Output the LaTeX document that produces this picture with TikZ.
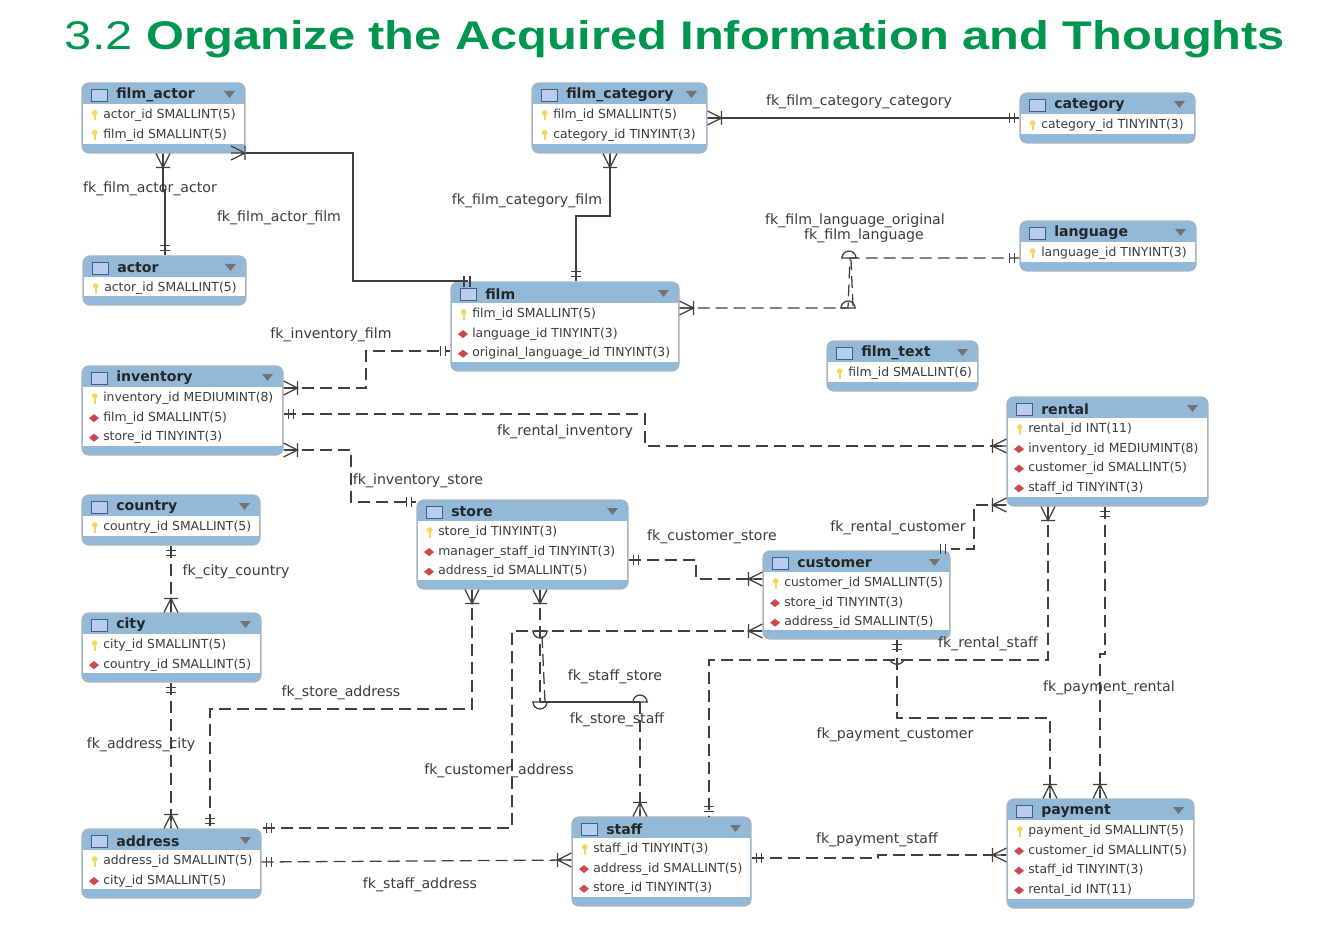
\documentclass[tikz,border=0pt]{standalone}
\usepackage{fontspec}
\setmainfont{DejaVu Sans}
\newfontfamily\titlefont[FakeStretch=1.22]{Liberation Sans}
\usetikzlibrary{fit}

\definecolor{headblue}{RGB}{146,186,216}
\definecolor{framegrey}{RGB}{170,180,190}
\definecolor{titlegreen}{RGB}{0,150,80}
\definecolor{keyyellow}{RGB}{245,215,90}
\definecolor{fkred}{RGB}{205,70,80}
\definecolor{inkgrey}{RGB}{60,60,60}
\definecolor{iconblue}{RGB}{185,205,238}
\definecolor{iconedge}{RGB}{70,90,140}

\tikzset{
  tablebox/.style={draw=framegrey,fill=headblue,rounded corners=5pt,inner sep=0pt,line width=0.8pt},
  tabletitle/.style={anchor=west,inner sep=0.75pt,font=\fontsize{10.6}{12}\selectfont\bfseries,text=black!85},
  rowtext/.style={anchor=west,inner sep=0.75pt,font=\fontsize{9.3}{11}\selectfont,text=inkgrey},
  fklabel/.style={inner sep=0.75pt,font=\fontsize{10.6}{12}\selectfont,text=inkgrey},
  fksolid/.style={draw=black!75,line width=0.95pt},
  fkdash/.style={draw=black!75,line width=0.95pt,dash pattern={on 9pt off 4.5pt}},
  crowfoot/.pic={\draw[black!75,line width=0.95pt,solid] (0,-7) -- (14,0) -- (0,7) (0,0) -- (14,0) (14,-7) -- (14,7);},
  onebars/.pic={\draw[black!75,line width=0.95pt,solid] (5,-5) -- (5,5) (10,-5) -- (10,5);},
  halfdome/.pic={\draw[black!75,line width=0.95pt,solid] (-8,0) -- (8,0) (-7,0) arc (180:0:7);},
}

% name, left, top, right, bottom, title, rows (K or F / text)
\newcommand{\erdtable}[7]{
  \node (#1) [tablebox,fit={(#2,#3) (#4,#5)}] {};
  \fill[white] ({#2+1},{#3+21}) rectangle ({#4-1},{#5-9});
  \draw[iconedge,fill=iconblue] ({#2+9},{#3+6}) rectangle ({#2+25},{#3+18});
  \fill[black!55] ({#4-21},{#3+8}) -- ({#4-10},{#3+8}) -- ({#4-15.5},{#3+15}) -- cycle;
  \node (#1title) [tabletitle] at ({#2+33},{#3+12}) {#6};
  \foreach \rowkind/\rowtext [count=\rowno] in {#7} {
    \pgfmathsetmacro{\rowy}{#3+32.5+19.6*(\rowno-1)}
    \if\rowkind K
      \fill[keyyellow] ({#2+11.5},\rowy-2) rectangle ({#2+14},\rowy+5);
      \fill[keyyellow] ({#2+12.7},\rowy-2.5) circle (2.8);
    \else
      \fill[fkred] ({#2+7},\rowy) -- ({#2+12},\rowy-4) -- ({#2+17},\rowy) -- ({#2+12},\rowy+4) -- cycle;
    \fi
    \node (#1row\rowno) [rowtext] at ({#2+20},\rowy) {\rowtext};
  }
}

\begin{document}
\begin{tikzpicture}[x=0.75pt,y=0.75pt,yscale=-1,xscale=1]
\useasboundingbox (0,0) rectangle (1334,927);

% Title
\draw (675,39) node (slidetitle) [inner sep=0pt,text=titlegreen,font=\titlefont\fontsize{30}{34}\selectfont] {3.2 \textbf{Organize the Acquired Information and Thoughts}};

% Tables
\erdtable{filmactor}{82}{83}{245}{153}{film\_actor}{K/actor\_id SMALLINT(5),K/film\_id SMALLINT(5)}
\erdtable{actor}{83}{256}{246}{305}{actor}{K/actor\_id SMALLINT(5)}
\erdtable{filmcategory}{532}{83}{707}{153}{film\_category}{K/film\_id SMALLINT(5),K/category\_id TINYINT(3)}
\erdtable{category}{1020}{93}{1195}{143}{category}{K/category\_id TINYINT(3)}
\erdtable{language}{1020}{221}{1196}{271}{language}{K/language\_id TINYINT(3)}
\erdtable{film}{451}{282}{679}{371}{film}{K/film\_id SMALLINT(5),F/language\_id TINYINT(3),F/original\_language\_id TINYINT(3)}
\erdtable{filmtext}{827}{341}{978}{391}{film\_text}{K/film\_id SMALLINT(6)}
\erdtable{inventory}{82}{366}{283}{455}{inventory}{K/inventory\_id MEDIUMINT(8),F/film\_id SMALLINT(5),F/store\_id TINYINT(3)}
\erdtable{rental}{1007}{397}{1208}{506}{rental}{K/rental\_id INT(11),F/inventory\_id MEDIUMINT(8),F/customer\_id SMALLINT(5),F/staff\_id TINYINT(3)}
\erdtable{country}{82}{495}{260}{545}{country}{K/country\_id SMALLINT(5)}
\erdtable{store}{417}{500}{628}{589}{store}{K/store\_id TINYINT(3),F/manager\_staff\_id TINYINT(3),F/address\_id SMALLINT(5)}
\erdtable{customer}{763}{551}{950}{639}{customer}{K/customer\_id SMALLINT(5),F/store\_id TINYINT(3),F/address\_id SMALLINT(5)}
\erdtable{city}{82}{613}{261}{682}{city}{K/city\_id SMALLINT(5),F/country\_id SMALLINT(5)}
\erdtable{address}{82}{829}{261}{898}{address}{K/address\_id SMALLINT(5),F/city\_id SMALLINT(5)}
\erdtable{staff}{572}{817}{751}{906}{staff}{K/staff\_id TINYINT(3),F/address\_id SMALLINT(5),F/store\_id TINYINT(3)}
\erdtable{payment}{1007}{799}{1194}{908}{payment}{K/payment\_id SMALLINT(5),F/customer\_id SMALLINT(5),F/staff\_id TINYINT(3),F/rental\_id INT(11)}

% Solid connectors
\draw[fksolid] (163,0 |- filmactor.south) -- (163,190) -- (165,190) -- (165,0 |- actor.north);
\path (163,0 |- filmactor.south) pic[rotate=270]{crowfoot} (165,0 |- actor.north) pic[rotate=90]{onebars};
\draw[fksolid] (filmactor.east |- 0,153) -- (353,153) -- (353,281) -- (467,281) -- (467,0 |- film.north);
\path (231,153) pic{crowfoot};
\draw[black!75,line width=0.95pt] (464,276) -- (464,287) (470,276) -- (470,287);
\draw[fksolid] (filmcategory.east |- 0,118) -- (category.west |- 0,118);
\path (filmcategory.east |- 0,118) pic{crowfoot} (category.west |- 0,118) pic[rotate=180]{onebars};
\draw[fksolid] (610,0 |- filmcategory.south) -- (610,216) -- (576,216) -- (576,0 |- film.north);
\path (610,0 |- filmcategory.south) pic[rotate=270]{crowfoot} (576,0 |- film.north) pic[rotate=90]{onebars};

% Dashed connectors
\draw[fkdash] (film.east |- 0,308) -- (848,308) -- (850,258) -- (language.west |- 0,258);
\draw[fkdash] (853,306) -- (851,260);
\path (film.east |- 0,308) pic{crowfoot} (language.west |- 0,258) pic[rotate=180]{onebars};
\path (849,258) pic{halfdome} (848,308) pic{halfdome};
\draw[fkdash] (inventory.east |- 0,388) -- (366,388) -- (366,351) -- (film.west |- 0,351);
\path (inventory.east |- 0,388) pic{crowfoot} (film.west |- 0,351) pic[rotate=180]{onebars};
\draw[fkdash] (inventory.east |- 0,414) -- (645,414) -- (645,446) -- (rental.west |- 0,446);
\path (inventory.east |- 0,414) pic{onebars} (rental.west |- 0,446) pic[rotate=180]{crowfoot};
\draw[fkdash] (inventory.east |- 0,450) -- (351,450) -- (351,502) -- (store.west |- 0,502);
\path (inventory.east |- 0,450) pic{crowfoot} (store.west |- 0,502) pic[rotate=180]{onebars};
\draw[fkdash] (171,0 |- country.south) -- (171,0 |- city.north);
\path (171,0 |- country.south) pic[rotate=270]{onebars} (171,0 |- city.north) pic[rotate=90]{crowfoot};
\draw[fkdash] (171,0 |- city.south) -- (171,0 |- address.north);
\path (171,0 |- city.south) pic[rotate=270]{onebars} (171,0 |- address.north) pic[rotate=90]{crowfoot};
\draw[fkdash] (472,0 |- store.south) -- (472,709) -- (210,709) -- (210,0 |- address.north);
\path (472,0 |- store.south) pic[rotate=270]{crowfoot} (210,0 |- address.north) pic[rotate=90]{onebars};
\draw[fkdash] (540,0 |- store.south) -- (540,702);
\draw[fkdash] (542,636) -- (545,702);
\draw[fksolid] (540,702) -- (640,702);
\draw[fkdash] (640,702) -- (640,0 |- staff.north);
\path (540,0 |- store.south) pic[rotate=270]{crowfoot} (640,0 |- staff.north) pic[rotate=90]{crowfoot};
\path (540,631) pic[rotate=180]{halfdome} (540,702) pic[rotate=180]{halfdome} (640,702) pic{halfdome};
\draw[fkdash] (customer.west |- 0,631) -- (512,631) -- (512,828) -- (address.east |- 0,828);
\path (customer.west |- 0,631) pic[rotate=180]{crowfoot} (address.east |- 0,828) pic{onebars};
\draw[fkdash] (store.east |- 0,560) -- (696,560) -- (696,579) -- (customer.west |- 0,579);
\path (store.east |- 0,560) pic{onebars} (customer.west |- 0,579) pic[rotate=180]{crowfoot};
\draw[fkdash] (rental.west |- 0,505) -- (974,505) -- (974,549) -- (customer.east |- 0,549);
\path (rental.west |- 0,505) pic[rotate=180]{crowfoot} (customer.east |- 0,549) pic[rotate=180]{onebars};
\draw[fkdash] (1048,0 |- rental.south) -- (1048,660) -- (709,660) -- (709,0 |- staff.north);
\path (1048,0 |- rental.south) pic[rotate=270]{crowfoot} (709,0 |- staff.north) pic[rotate=90]{onebars};
\draw[black!75,line width=0.95pt] (890,660) .. controls (894,666) and (900,666) .. (904,660);
\draw[fkdash] (1105,0 |- rental.south) -- (1105,654) -- (1100,654) -- (1100,0 |- payment.north);
\path (1105,0 |- rental.south) pic[rotate=270]{onebars} (1100,0 |- payment.north) pic[rotate=90]{crowfoot};
\draw[fkdash] (897,0 |- customer.south) -- (897,718) -- (1050,718) -- (1050,0 |- payment.north);
\path (897,0 |- customer.south) pic[rotate=270]{onebars} (1050,0 |- payment.north) pic[rotate=90]{crowfoot};
\draw[fkdash] (address.east |- 0,862) -- (staff.west |- 0,860);
\path (address.east |- 0,862) pic{onebars} (staff.west |- 0,860) pic[rotate=180]{crowfoot};
\draw[fkdash] (staff.east |- 0,858) -- (878,858) -- (878,855) -- (payment.west |- 0,855);
\path (staff.east |- 0,858) pic{onebars} (payment.west |- 0,855) pic[rotate=180]{crowfoot};

% Text Node
\draw (150,189) node (lblfaa) [fklabel] {fk\_film\_actor\_actor};
\draw (279,218) node (lblfaf) [fklabel] {fk\_film\_actor\_film};
\draw (527,201) node (lblfcf) [fklabel] {fk\_film\_category\_film};
\draw (859,102) node (lblfcc) [fklabel] {fk\_film\_category\_category};
\draw (855,221) node (lblflo) [fklabel] {fk\_film\_language\_original};
\draw (864,236) node (lblfl) [fklabel] {fk\_film\_language};
\draw (331,335) node (lblif) [fklabel] {fk\_inventory\_film};
\draw (565,432) node (lblri) [fklabel] {fk\_rental\_inventory};
\draw (418,481) node (lblis) [fklabel] {fk\_inventory\_store};
\draw (712,537) node (lblcs) [fklabel] {fk\_customer\_store};
\draw (898,528) node (lblrc) [fklabel] {fk\_rental\_customer};
\draw (236,572) node (lblcc) [fklabel] {fk\_city\_country};
\draw (341,693) node (lblsa) [fklabel] {fk\_store\_address};
\draw (615,677) node (lblss) [fklabel] {fk\_staff\_store};
\draw (617,720) node (lblst) [fklabel] {fk\_store\_staff};
\draw (988,644) node (lblrs) [fklabel] {fk\_rental\_staff};
\draw (1109,688) node (lblpr) [fklabel] {fk\_payment\_rental};
\draw (895,735) node (lblpc) [fklabel] {fk\_payment\_customer};
\draw (141,745) node (lblac) [fklabel] {fk\_address\_city};
\draw (499,771) node (lblca) [fklabel] {fk\_customer\_address};
\draw (877,840) node (lblps) [fklabel] {fk\_payment\_staff};
\draw (420,885) node (lblstaffa) [fklabel] {fk\_staff\_address};

\end{tikzpicture}
\end{document}
